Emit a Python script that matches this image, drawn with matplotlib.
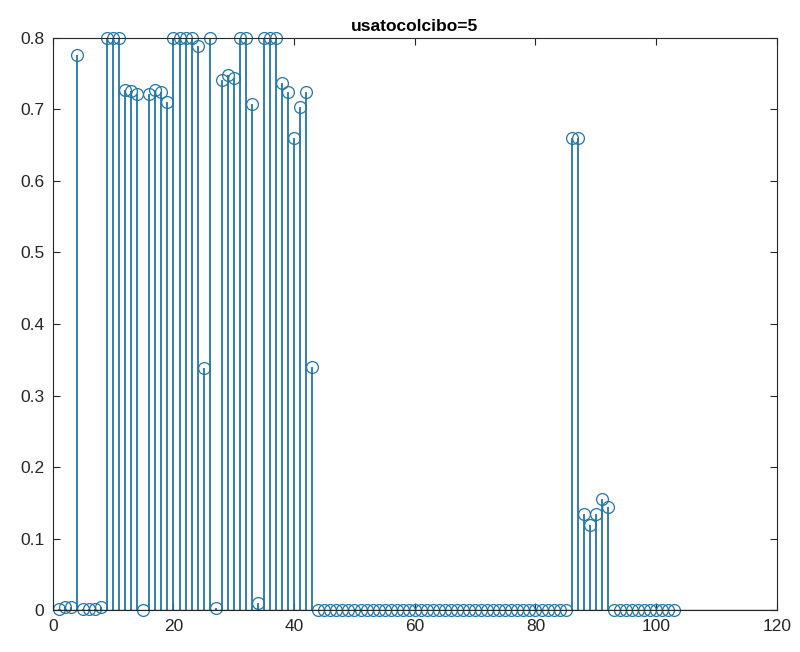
import matplotlib.pyplot as plt
import numpy as np

plt.rcParams['font.family'] = ['Liberation Sans', 'DejaVu Sans']

# valori per indice 1..103
y_head = [0.002, 0.004, 0.004, 0.776, 0.002, 0.002, 0.002, 0.004,
          0.8, 0.8, 0.8, 0.727, 0.726, 0.721, 0.001, 0.722,
          0.727, 0.724, 0.711, 0.8, 0.8, 0.8, 0.8, 0.789,
          0.338, 0.8, 0.003, 0.741, 0.748, 0.744, 0.8, 0.8,
          0.707, 0.010, 0.8, 0.8, 0.8, 0.737, 0.724, 0.660,
          0.704, 0.724, 0.340]
y_zeri1 = [0.001] * 42          # indici 44..85
y_picco = [0.660, 0.660, 0.134, 0.119, 0.134, 0.156, 0.145]  # 86..92
y_zeri2 = [0.001] * 11          # indici 93..103

y = np.array(y_head + y_zeri1 + y_picco + y_zeri2)
x = np.arange(1, len(y) + 1)

col = '#2276a6'

fig = plt.figure(figsize=(8, 6.52), dpi=100)
ax = fig.add_axes([0.066, 0.064, 0.905, 0.878])

# gambi e cerchi come stem di MATLAB
ax.vlines(x, 0, y, color=col, lw=1.3)
ax.plot(x, y, 'o', mfc='none', mec=col, ms=8.5, mew=0.9, clip_on=False)
ax.axhline(0, color='black', lw=0.9)

ax.set_xlim(0, 120)
ax.set_ylim(0, 0.8)
ax.set_xticks(range(0, 121, 20))
ax.set_yticks(np.arange(0, 0.81, 0.1))
ax.set_yticklabels(['0', '0.1', '0.2', '0.3', '0.4', '0.5', '0.6', '0.7', '0.8'])
ax.tick_params(direction='in', top=True, right=True, labelsize=12.5,
               length=5, width=0.8, colors='#262626', pad=6)
for s in ax.spines.values():
    s.set_color('#262626')
    s.set_linewidth(0.8)

ax.set_title('usatocolcibo=5', fontsize=12.5, fontweight='bold', pad=5)

plt.savefig('out.png', dpi=100)
